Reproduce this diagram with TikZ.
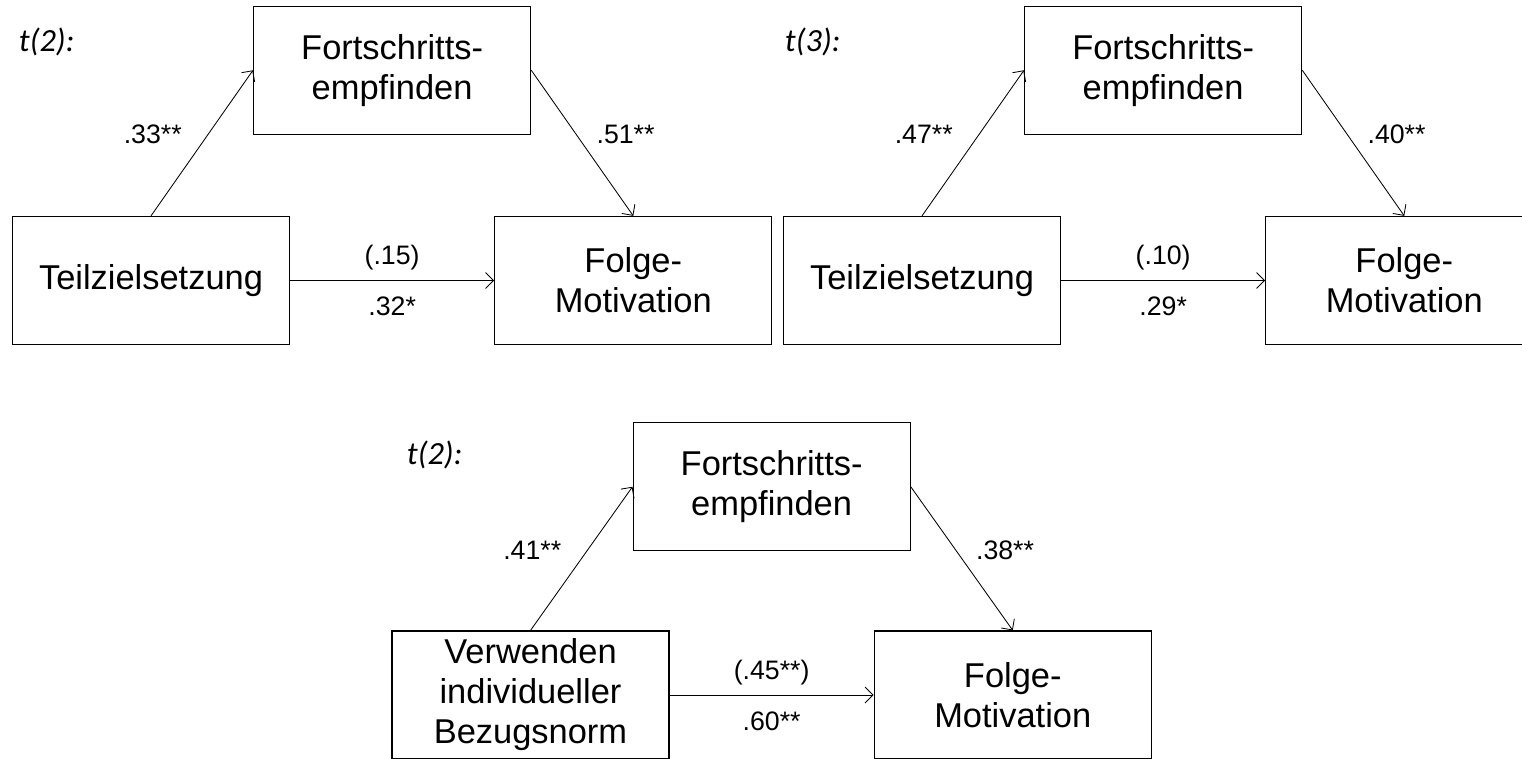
\documentclass[tikz,border=0pt]{standalone}
\usepackage{fontspec}
\setmainfont{Liberation Sans}
\newfontfamily\timelabelfont{Carlito}
\usetikzlibrary{positioning,calc,arrows.meta}

\begin{document}
\begin{tikzpicture}[
    box/.style={rectangle, draw, line width=0.9pt, minimum width=6.925cm, minimum height=3.2cm, inner sep=0pt, align=center, font=\fontsize{24.5}{28.5}\selectfont},
    arrow/.style={-{Straight Barb[length=2mm, width=4mm]}, line width=0.6pt},
    coef/.style={inner sep=0pt, font=\fontsize{19}{22}\selectfont},
    wave/.style={anchor=west, font=\timelabelfont\itshape\fontsize{23}{26}\selectfont}
]
\useasboundingbox (0,0) rectangle (38.05,-18.95);

% Teilzielsetzung, t(2)
\node[wave] (t2a) at (0.35,-1.05) {t(2):};
\node[box] (tz1) at (3.775,-7.0125) {Teilzielsetzung};
\node[box, right=5.1cm of tz1] (fm1) {Folge-\\Motivation};
\coordinate (m1) at ($(tz1.north)!0.5!(fm1.north)$);
\node[box, above=2.025cm of m1] (fe1) {Fortschritts-\\empfinden};

\draw[arrow] (tz1.north) -- node[coef, pos=0.56, left=0.65cm] {.33**} (fe1.west);
\draw[arrow] (fe1.east) -- node[coef, pos=0.44, right=0.5cm] {.51**} (fm1.north);
\draw[arrow] (tz1) -- node[coef, above=0.25cm] {(.15)} node[coef, below=0.4cm] {.32*} (fm1);

% Teilzielsetzung, t(3)
\node[wave] (t3) at (19.5,-1.05) {t(3):};
\node[box] (tz2) at (23.05,-7.0125) {Teilzielsetzung};
\node[box, right=5.1cm of tz2] (fm2) {Folge-\\Motivation};
\coordinate (m2) at ($(tz2.north)!0.5!(fm2.north)$);
\node[box, above=2.025cm of m2] (fe2) {Fortschritts-\\empfinden};

\draw[arrow] (tz2.north) -- node[coef, pos=0.56, left=0.65cm] {.47**} (fe2.west);
\draw[arrow] (fe2.east) -- node[coef, pos=0.44, right=0.5cm] {.40**} (fm2.north);
\draw[arrow] (tz2) -- node[coef, above=0.25cm] {(.10)} node[coef, below=0.4cm] {.29*} (fm2);

% individuelle Bezugsnorm, t(2)
\node[wave] (t2b) at (10.05,-11.375) {t(2):};
\node[box] (bn) at (13.2625,-17.375) {Verwenden\\individueller\\Bezugsnorm};
\node[box, right=5.1cm of bn] (fm3) {Folge-\\Motivation};
\coordinate (m3) at ($(bn.north)!0.5!(fm3.north)$);
\node[box, above=1.975cm of m3] (fe3) {Fortschritts-\\empfinden};

\draw[arrow] (bn.north) -- node[coef, pos=0.56, left=0.65cm] {.41**} (fe3.west);
\draw[arrow] (fe3.east) -- node[coef, pos=0.44, right=0.5cm] {.38**} (fm3.north);
\draw[arrow] (bn) -- node[coef, above=0.25cm] {(.45**)} node[coef, below=0.4cm] {.60**} (fm3);

\end{tikzpicture}
\end{document}
